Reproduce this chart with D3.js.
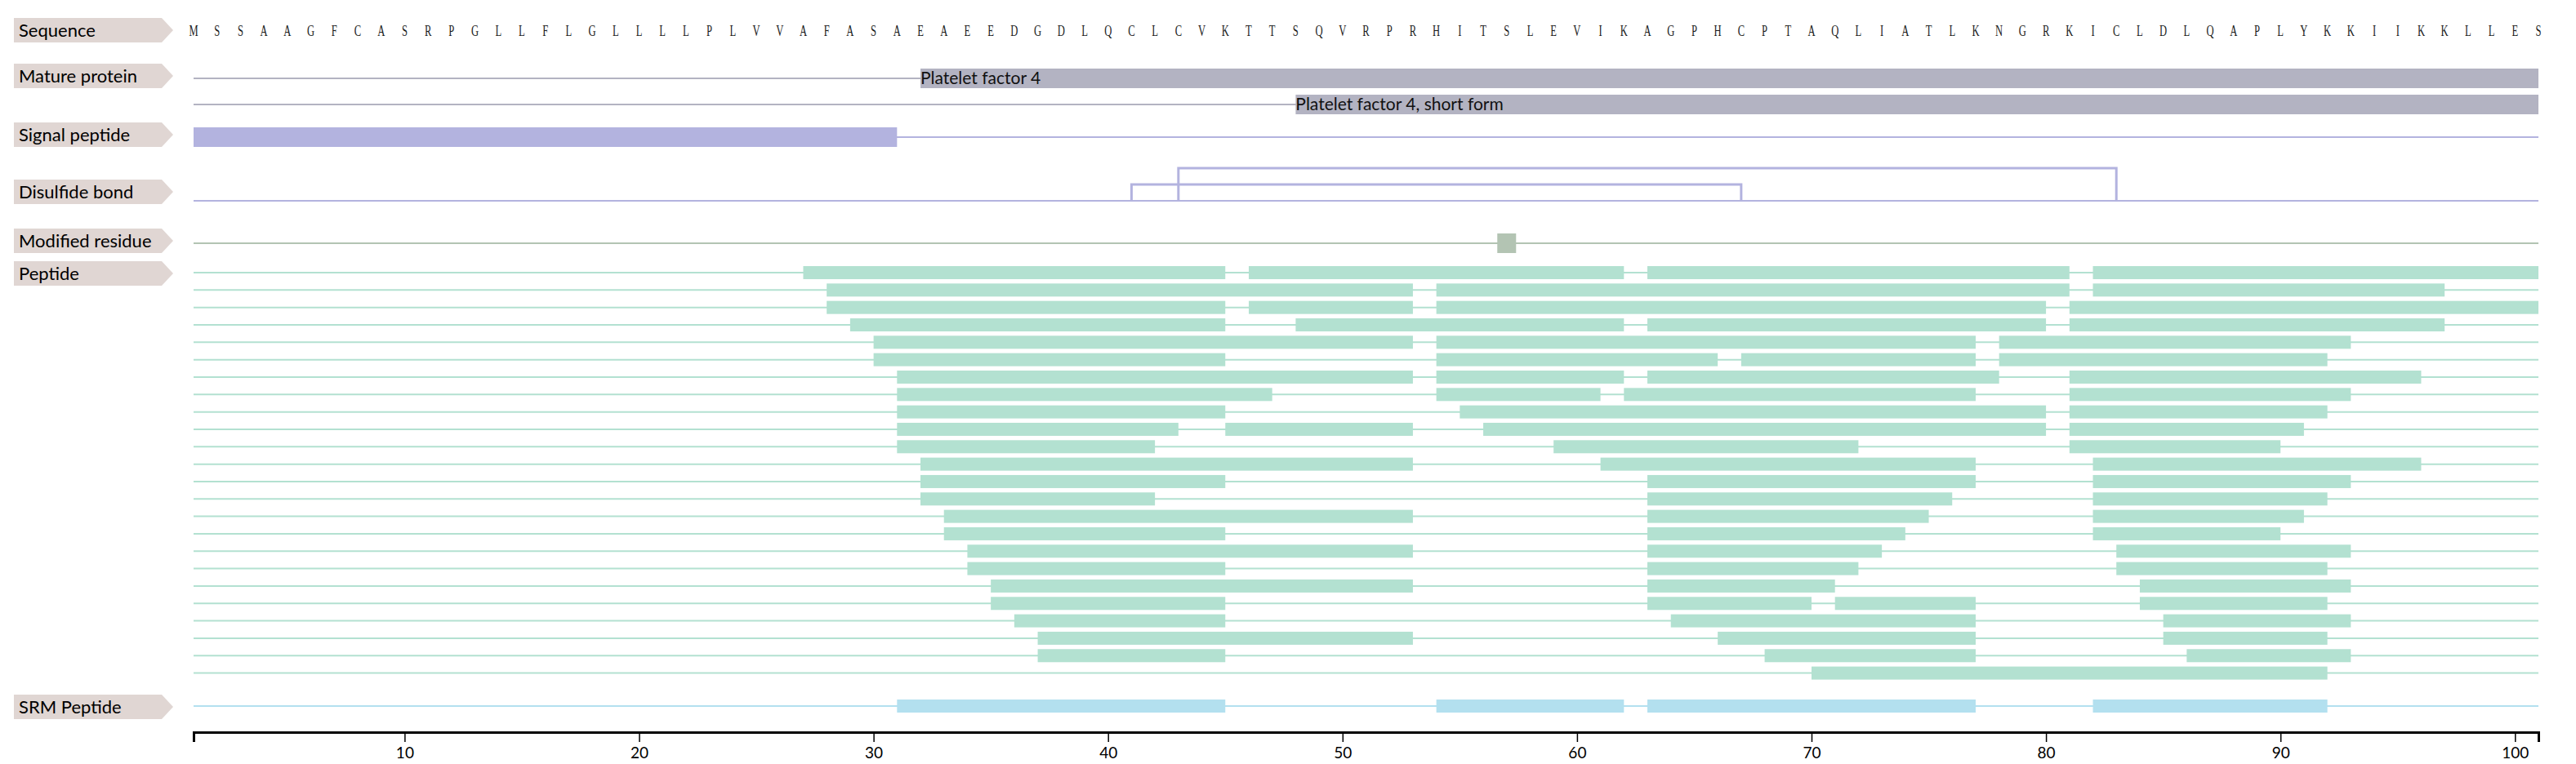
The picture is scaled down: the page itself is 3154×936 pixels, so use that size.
<!DOCTYPE html>
<html>
<head>
<meta charset="utf-8">
<script src="https://cdn.jsdelivr.net/npm/d3@7"></script>
<style>
  html, body { margin: 0; padding: 0; background: #fff; }
  svg { display: block; }
</style>
</head>
<body>
<svg id="chart" width="3154" height="936"></svg>
<script>
// protein sequence, one residue per position
const sequence = 'MSSAAGFCASRPGLLFLGLLLLPLVVAFASAEAEEDGDLQCLCVKTTSQVRPRHITSLEVIKAGPHCPTAQLIATLKNGRKICLDLQAPLYKKIIKKLLES'.split('');

const trackNames = ['Sequence', 'Mature protein', 'Signal peptide', 'Disulfide bond', 'Modified residue', 'Peptide', 'SRM Peptide'];

const matureProteins = [
  { name: 'Platelet factor 4', start: 32, end: 101 },
  { name: 'Platelet factor 4, short form', start: 48, end: 101 }
];
const signalPeptides = [[1, 31]];
const disulfideBonds = [[41, 67], [43, 83]];
const modifiedResidues = [57];

// each row = list of [start, end] peptides
const peptideRows = [
  [[27, 45], [46, 62], [63, 81], [82, 101]],
  [[28, 53], [54, 81], [82, 97]],
  [[28, 45], [46, 53], [54, 80], [81, 101]],
  [[29, 45], [48, 62], [63, 80], [81, 97]],
  [[30, 53], [54, 77], [78, 93]],
  [[30, 45], [54, 66], [67, 77], [78, 92]],
  [[31, 53], [54, 62], [63, 78], [81, 96]],
  [[31, 47], [54, 61], [62, 77], [81, 93]],
  [[31, 45], [55, 80], [81, 92]],
  [[31, 43], [45, 53], [56, 80], [81, 91]],
  [[31, 42], [59, 72], [81, 90]],
  [[32, 53], [61, 77], [82, 96]],
  [[32, 45], [63, 77], [82, 93]],
  [[32, 42], [63, 76], [82, 92]],
  [[33, 53], [63, 75], [82, 91]],
  [[33, 45], [63, 74], [82, 90]],
  [[34, 53], [63, 73], [83, 93]],
  [[34, 45], [63, 72], [83, 92]],
  [[35, 53], [63, 71], [84, 93]],
  [[35, 45], [63, 70], [71, 77], [84, 92]],
  [[36, 45], [64, 77], [85, 93]],
  [[37, 53], [66, 77], [85, 92]],
  [[37, 45], [68, 77], [86, 93]],
  [[70, 92]]
];

const srmPeptides = [[31, 45], [54, 62], [63, 77], [82, 92]];

const axisTicks = [10, 20, 30, 40, 50, 60, 70, 80, 90, 100];

// ---- layout ----
const svg = d3.select('#chart');
const x = d3.scaleLinear().domain([1, sequence.length]).range([237, 3108]);

const labelFont = 'Lato, "Open Sans", sans-serif';
const colors = {
  label: '#e0d6d3',
  mature: '#b3b3c2',
  signal: '#b3b3df',
  modified: '#b3c4b3',
  peptide: '#b3e1d1',
  srm: '#b3e0ef'
};

// label centre y for each track
const labelY = {
  'Sequence': 37,
  'Mature protein': 93,
  'Signal peptide': 165,
  'Disulfide bond': 235,
  'Modified residue': 295,
  'Peptide': 335,
  'SRM Peptide': 866
};

// track labels (arrow shaped boxes)
const labels = svg.append('g').attr('class', 'labels')
  .selectAll('g')
  .data(trackNames)
  .join('g')
  .attr('transform', d => `translate(0,${labelY[d]})`);

labels.append('polygon')
  .attr('points', '17,-15 198,-15 212,0 198,15 17,15')
  .attr('fill', colors.label);

labels.append('text')
  .attr('x', 23)
  .attr('y', 8)
  .attr('font-family', labelFont)
  .attr('font-size', 22)
  .attr('fill', '#000')
  .text(d => d);

// sequence letters
svg.append('g').attr('class', 'sequence')
  .selectAll('text')
  .data(sequence)
  .join('text')
  .attr('transform', (d, i) => `translate(${x(i + 1)},44) scale(0.7,1)`)
  .attr('text-anchor', 'middle')
  .attr('font-family', '"Liberation Serif", "DejaVu Serif", serif')
  .attr('font-size', 18)
  .attr('fill', '#1a1a1a')
  .text(d => d);

// helper: a baseline spanning the whole sequence
function baseline(g, y, color, width) {
  g.append('line')
    .attr('x1', x(1)).attr('x2', x(sequence.length))
    .attr('y1', y).attr('y2', y)
    .attr('stroke', color)
    .attr('stroke-width', width || 2);
}

// mature protein
const mature = svg.append('g').attr('class', 'mature');
matureProteins.forEach((p, i) => {
  const y = 96 + i * 32;
  baseline(mature, y, colors.mature);
  mature.append('rect')
    .attr('x', x(p.start)).attr('width', x(p.end) - x(p.start))
    .attr('y', y - 12).attr('height', 24)
    .attr('fill', colors.mature);
  mature.append('text')
    .attr('x', x(p.start)).attr('y', y + 7)
    .attr('font-family', labelFont)
    .attr('font-size', 21)
    .attr('fill', '#111')
    .text(p.name);
});

// signal peptide
const signal = svg.append('g').attr('class', 'signal');
baseline(signal, 168, colors.signal);
signal.selectAll('rect')
  .data(signalPeptides)
  .join('rect')
  .attr('x', d => x(d[0])).attr('width', d => x(d[1]) - x(d[0]))
  .attr('y', 156).attr('height', 24)
  .attr('fill', colors.signal);

// disulfide bonds - brackets above a baseline
const bonds = svg.append('g').attr('class', 'disulfide');
baseline(bonds, 246, colors.signal);
bonds.selectAll('path')
  .data(disulfideBonds)
  .join('path')
  .attr('fill', 'none')
  .attr('stroke', colors.signal)
  .attr('stroke-width', 3)
  .attr('d', d => {
    // longer bonds sit higher
    const top = (d[1] - d[0]) > 30 ? 206 : 226;
    return `M${x(d[0])},246 V${top} H${x(d[1])} V246`;
  });

// modified residues
const mods = svg.append('g').attr('class', 'modified');
baseline(mods, 298, colors.modified);
mods.selectAll('rect')
  .data(modifiedResidues)
  .join('rect')
  .attr('x', d => x(d) - 11.5).attr('width', 23)
  .attr('y', 286).attr('height', 24)
  .attr('fill', colors.modified);

// peptides
const pep = svg.append('g').attr('class', 'peptides');
const rowStep = 21.33;
peptideRows.forEach((row, r) => {
  const y = 334 + r * rowStep;
  baseline(pep, y, colors.peptide);
  pep.append('g')
    .selectAll('rect')
    .data(row)
    .join('rect')
    .attr('x', d => x(d[0])).attr('width', d => x(d[1]) - x(d[0]))
    .attr('y', y - 8).attr('height', 16)
    .attr('fill', colors.peptide);
});

// SRM peptides
const srm = svg.append('g').attr('class', 'srm');
baseline(srm, 865, colors.srm);
srm.selectAll('rect')
  .data(srmPeptides)
  .join('rect')
  .attr('x', d => x(d[0])).attr('width', d => x(d[1]) - x(d[0]))
  .attr('y', 857).attr('height', 16)
  .attr('fill', colors.srm);

// position axis
const axis = svg.append('g')
  .attr('transform', 'translate(0,897)')
  .call(d3.axisBottom(x).tickValues(axisTicks).tickSize(12).tickPadding(7));

axis.select('.domain').attr('stroke', '#000').attr('stroke-width', 3);
axis.selectAll('.tick line').attr('stroke', '#000').attr('stroke-width', 1.5);
axis.selectAll('.tick text')
  .attr('font-family', labelFont)
  .attr('font-size', 19)
  .attr('fill', '#000');
</script>
</body>
</html>
